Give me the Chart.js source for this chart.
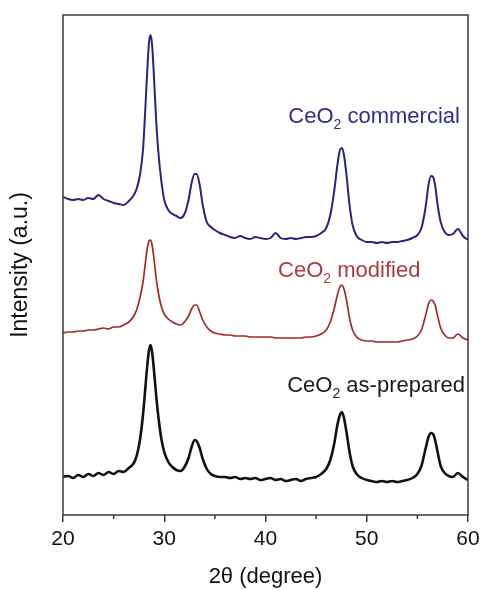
<!DOCTYPE html>
<html><head><meta charset="utf-8">
<script src="https://cdn.jsdelivr.net/npm/chart.js@4"></script>
<style>html,body{margin:0;padding:0;background:#fff}#wrap{width:480px;height:590px;position:relative}</style>
</head><body><div id="wrap"><canvas id="c"></canvas></div>
<script>
// 2θ positions (degree)
const twoTheta = [
  20, 20.5, 21, 21.5, 22, 22.5, 23, 23.5, 24, 24.5,
  25, 25.5, 26, 26.5, 27, 27.3, 27.6, 27.9, 28.1, 28.3,
  28.5, 28.65, 28.8, 29.0, 29.2, 29.4, 29.7, 30.0, 30.4, 30.8,
  31.2, 31.6, 32.0, 32.4, 32.7, 33.0, 33.2, 33.5, 33.8, 34.2,
  34.6, 35, 35.5, 36, 36.5, 37, 37.5, 38, 38.5, 39,
  39.5, 40, 40.5, 41, 41.5, 42, 42.5, 43, 43.5, 44,
  44.5, 45, 45.5, 46, 46.4, 46.8, 47.1, 47.35, 47.55, 47.75,
  48.0, 48.3, 48.6, 49.0, 49.5, 50, 50.5, 51, 51.5, 52,
  52.5, 53, 53.5, 54, 54.5, 55, 55.4, 55.8, 56.1, 56.35,
  56.55, 56.75, 57.0, 57.3, 57.7, 58.1, 58.5, 59, 59.5, 60
];
// Intensity (a.u., stacked with offsets as in the figure)
const commercial = [
  318, 316, 315, 316, 315, 317, 316, 320, 316, 314,
  312, 311, 310, 314, 320, 327, 340, 365, 400, 440,
  473, 480, 470, 435, 395, 365, 335, 315, 305, 301,
  299, 297, 301, 315, 332, 341, 341, 330, 310, 293,
  288, 285, 282, 280, 278, 277, 279, 277, 276, 278,
  277, 276, 277, 282, 277, 276, 277, 276, 277, 278,
  278, 279, 282, 287, 300, 325, 350, 365, 367, 360,
  340, 310, 290, 279, 275, 273, 273, 272, 273, 272,
  273, 273, 274, 275, 277, 280, 287, 307, 330, 339,
  338, 330, 310, 293, 283, 280, 281, 286, 279, 275
];
const modified = [
  182, 183, 183, 184, 184, 185, 185, 186, 187, 186,
  188, 188, 190, 193, 199, 206, 217, 233, 249, 265,
  274, 275, 270, 255, 237, 223, 209, 201, 196, 193,
  191, 190, 193, 199, 206, 210, 210, 203, 195, 188,
  184, 182, 181, 180, 180, 179, 179, 179, 178, 178,
  178, 178, 178, 177, 177, 177, 177, 177, 177, 178,
  178, 179, 181, 185, 193, 207, 220, 228, 230, 226,
  215, 197, 185, 178, 175, 174, 174, 173, 173, 173,
  173, 173, 174, 175, 176, 179, 185, 199, 211, 215,
  214, 210, 199, 187, 180, 177, 177, 181, 177, 175
];
const asPrepared = [
  38, 39, 37, 40, 38, 41, 39, 42, 40, 43,
  41, 44, 43, 47, 52, 60, 75, 100, 123, 147,
  165, 170, 163, 143, 120, 100, 77, 63, 53, 48,
  45, 44, 48, 57, 68, 75, 74, 67, 56, 46,
  41, 39, 38, 38, 37, 38, 36, 37, 36, 37,
  35, 36, 37, 35, 36, 34, 35, 36, 34, 36,
  37, 38, 41, 46, 55, 72, 90, 100, 103, 97,
  83, 63, 49, 41, 37, 35, 34, 33, 34, 33,
  34, 33, 34, 35, 37, 41, 49, 66, 78, 82,
  81, 75, 63, 49, 42, 39, 38, 42, 38, 35
];
const seriesLabels = ['CeO\u2082 commercial', 'CeO\u2082 modified', 'CeO\u2082 as-prepared'];
const xTicks = [20, 30, 40, 50, 60];
const minorTicks = [25, 35, 45, 55];

const colors = ['#25257e', '#a32a2a', '#111111'];
const textColors = ['#2e2e8c', '#b03a3a', '#1a1a1a'];

function pts(arr) { return twoTheta.map((x, i) => ({x: x, y: arr[i]})); }

const labelPlugin = {
  id: 'seriesText',
  afterDatasetsDraw(chart, args, opts) {
    const ctx = chart.ctx, xs = chart.scales.x, ys = chart.scales.y;
    ctx.save();
    opts.items.forEach(it => {
      const parts = it.text.split('\u2082');
      const big = '22px "Liberation Sans", Arial, sans-serif';
      const small = '14px "Liberation Sans", Arial, sans-serif';
      ctx.font = big; const w1 = ctx.measureText(parts[0]).width; const w3 = ctx.measureText(parts[1]).width;
      ctx.font = small; const w2 = ctx.measureText('2').width;
      const right = xs.getPixelForValue(it.x);
      const base = ys.getPixelForValue(it.y);
      let x = right - (w1 + w2 + w3);
      ctx.fillStyle = it.color; ctx.textBaseline = 'alphabetic'; ctx.textAlign = 'left';
      ctx.font = big; ctx.fillText(parts[0], x, base); x += w1;
      ctx.font = small; ctx.fillText('2', x, base + 6); x += w2;
      ctx.font = big; ctx.fillText(parts[1], x, base);
    });
    ctx.restore();
  }
};

const framePlugin = {
  id: 'frame',
  afterDraw(chart) {
    const {ctx, chartArea: a} = chart; const xs = chart.scales.x;
    ctx.save();
    ctx.strokeStyle = '#3a3a3a'; ctx.lineWidth = 1.5;
    ctx.strokeRect(a.left, a.top, a.right - a.left, a.bottom - a.top);
    ctx.beginPath();
    minorTicks.forEach(v => { const p = xs.getPixelForValue(v); ctx.moveTo(p, a.bottom); ctx.lineTo(p, a.bottom + 4); });
    ctx.stroke();
    ctx.restore();
  }
};

new Chart(document.getElementById('c'), {
  type: 'line',
  data: {
    datasets: [
      {label: seriesLabels[0], data: pts(commercial), borderColor: colors[0], borderWidth: 2},
      {label: seriesLabels[1], data: pts(modified), borderColor: colors[1], borderWidth: 1.7},
      {label: seriesLabels[2], data: pts(asPrepared), borderColor: colors[2], borderWidth: 2.6}
    ]
  },
  options: {
    responsive: true, maintainAspectRatio: false, animation: false,
    layout: {padding: {top: 15, right: 12, left: 0, bottom: 0}},
    elements: {point: {radius: 0}, line: {tension: 0.35, cubicInterpolationMode: 'monotone'}},
    plugins: {
      legend: {display: false}, tooltip: {enabled: false},
      seriesText: {items: [
        {text: seriesLabels[0], color: textColors[0], x: 59.2, y: 392},
        {text: seriesLabels[1], color: textColors[1], x: 55.3, y: 238},
        {text: seriesLabels[2], color: textColors[2], x: 59.7, y: 123}
      ]}
    },
    scales: {
      x: {
        type: 'linear', min: 20, max: 60,
        afterBuildTicks: s => { s.ticks = xTicks.map(v => ({value: v})); },
        afterFit: s => { s.height = 75; s.paddingLeft = 0; s.paddingRight = 0; },
        grid: {display: true, drawOnChartArea: false, drawTicks: true, tickLength: 7, color: '#3a3a3a', lineWidth: 1.5},
        border: {display: false},
        ticks: {padding: 5, color: '#111', font: {family: '"Liberation Sans", Arial, sans-serif', size: 21}, maxRotation: 0},
        title: {display: true, text: '2\u03b8 (degree)', color: '#111', padding: {top: 0, bottom: 0},
                font: {family: '"Liberation Sans", Arial, sans-serif', size: 22}}
      },
      y: {
        type: 'linear', min: 0, max: 500,
        afterFit: s => { s.width = 63; s.paddingTop = 0; s.paddingBottom = 0; },
        grid: {display: false},
        border: {display: false},
        ticks: {display: false},
        title: {display: true, text: 'Intensity (a.u.)', color: '#111', padding: {top: 7, bottom: 7},
                font: {family: '"Liberation Sans", Arial, sans-serif', size: 23}}
      }
    }
  },
  plugins: [labelPlugin, framePlugin]
});
</script></body></html>
